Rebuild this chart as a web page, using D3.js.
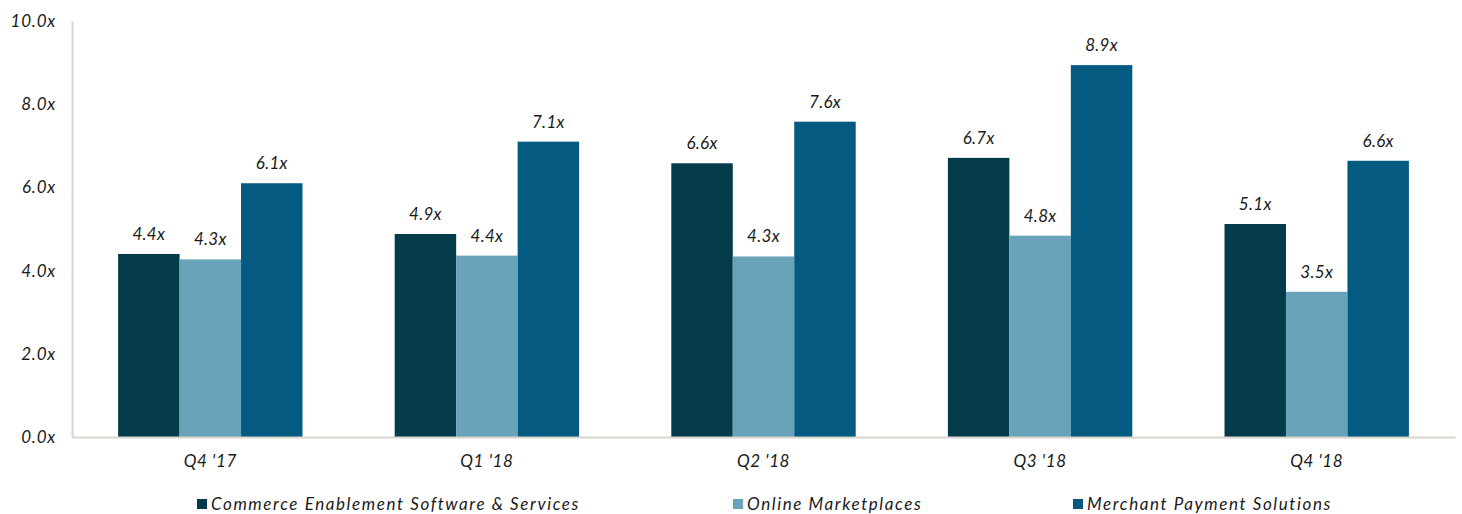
<!DOCTYPE html>
<html>
<head>
<meta charset="utf-8">
<script src="https://cdn.jsdelivr.net/npm/d3@7"></script>
<style>
  html, body { margin: 0; padding: 0; background: #fff; }
  svg text { font-family: Lato, "Open Sans", sans-serif; font-style: italic; font-weight: 400; fill: #1a1a1a; }
</style>
</head>
<body>
<svg id="chart" width="1462" height="514"></svg>
<script>
const categories = ["Q4 '17", "Q1 '18", "Q2 '18", "Q3 '18", "Q4 '18"];
const seriesNames = ["Commerce Enablement Software & Services", "Online Marketplaces", "Merchant Payment Solutions"];
const commerceEnablement = [4.40, 4.88, 6.58, 6.71, 5.12];
const onlineMarketplaces = [4.27, 4.36, 4.34, 4.84, 3.49];
const merchantPayments = [6.10, 7.10, 7.58, 8.94, 6.64];
const yTicks = [0, 2, 4, 6, 8, 10];
const colors = ["#033b4a", "#68a3b9", "#045a81"];

const seriesValues = [commerceEnablement, onlineMarketplaces, merchantPayments];

const svg = d3.select("#chart");
const plotLeft = 72, plotRight = 1455, plotTop = 21, plotBottom = 437;

const x0 = d3.scaleBand().domain(categories).range([plotLeft, plotRight]).paddingInner(0).paddingOuter(0);
const step = x0.step();
const x1 = d3.scaleBand().domain(d3.range(seriesNames.length)).range([step / 6, step * 5 / 6]).padding(0);
const y = d3.scaleLinear().domain([0, 10]).range([plotBottom, plotTop]);

// Bars
const groups = svg.append("g").selectAll("g")
  .data(categories)
  .join("g")
  .attr("transform", d => `translate(${x0(d)},0)`);

groups.selectAll("rect")
  .data((c, i) => seriesValues.map((vals, s) => ({ s, v: vals[i] })))
  .join("rect")
  .attr("x", d => x1(d.s))
  .attr("width", x1.bandwidth())
  .attr("y", d => y(d.v))
  .attr("height", d => y(0) - y(d.v))
  .attr("fill", d => colors[d.s]);

groups.selectAll("text.val")
  .data((c, i) => seriesValues.map((vals, s) => ({ s, v: vals[i] })))
  .join("text")
  .attr("class", "val")
  .attr("x", d => x1(d.s) + x1.bandwidth() / 2)
  .attr("y", d => y(d.v) - 14)
  .attr("text-anchor", "middle")
  .style("font-size", "17px")
  .style("letter-spacing", "0.3px")
  .text(d => d.v.toFixed(1) + "x");

// Y axis
const yAxis = d3.axisLeft(y).tickValues(yTicks).tickSize(0).tickPadding(16)
  .tickFormat(d => d.toFixed(1) + "x");
const ya = svg.append("g").attr("transform", `translate(${plotLeft},0)`).call(yAxis);
ya.select(".domain").attr("stroke", "#d9d5ce").attr("stroke-width", 2);
ya.selectAll("text").style("font-size", "17px").style("letter-spacing", "0.8px")
  .attr("dy", "0.32em").style("font-family", "Lato, sans-serif").style("fill", "#1a1a1a");

// X axis
const xAxis = d3.axisBottom(x0).tickSize(0).tickPadding(18);
const xa = svg.append("g").attr("transform", `translate(0,${plotBottom})`).call(xAxis);
xa.select(".domain").attr("stroke", "#d9d5ce").attr("stroke-width", 2);
xa.selectAll("text").style("font-size", "17px").style("letter-spacing", "0.6px")
  .style("font-family", "Lato, sans-serif").style("fill", "#1a1a1a");

// Legend
const legendX = [197, 733, 1073];
const lg = svg.append("g").selectAll("g")
  .data(seriesNames)
  .join("g")
  .attr("transform", (d, i) => `translate(${legendX[i]},504)`);
lg.append("rect").attr("x", 0).attr("y", -5).attr("width", 10).attr("height", 10)
  .attr("fill", (d, i) => colors[i]);
lg.append("text").attr("x", 14).attr("dy", "0.35em")
  .style("font-size", "17px").style("letter-spacing", "1.6px")
  .text(d => d);
</script>
</body>
</html>
